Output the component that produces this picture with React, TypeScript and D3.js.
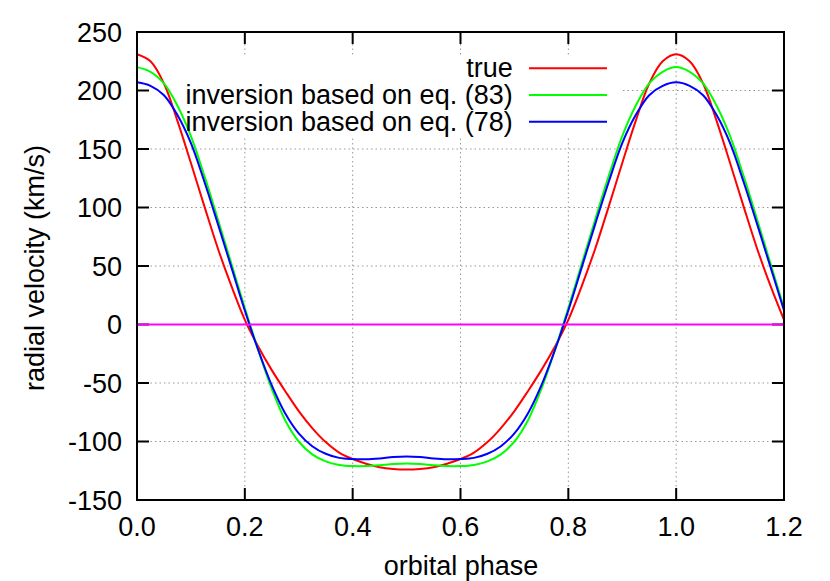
import React from "react";
import * as d3 from "d3";

const phases = [
  0, 0.025, 0.05, 0.075, 0.1, 0.125, 0.15, 0.175, 0.2, 0.225, 0.25, 0.275, 0.3, 0.325, 0.35, 0.375, 0.4, 0.425, 0.45, 0.475,
  0.5, 0.525, 0.55, 0.575, 0.6, 0.625, 0.65, 0.675, 0.7, 0.725, 0.75, 0.775, 0.8, 0.825, 0.85, 0.875, 0.9, 0.925, 0.95, 0.975,
  1.0, 1.025, 1.05, 1.075, 1.1, 1.125, 1.15, 1.175, 1.2,
];

const trueRV = [
  231, 225, 206, 174, 138, 101, 65, 33, 4, -19, -39, -57, -74, -88.5, -100.5, -109.5, -115, -119, -122, -123.5,
  -124, -123.5, -122, -119, -115, -109.5, -100.5, -88.5, -74, -57, -39, -19, 4, 33, 65, 101, 138, 174, 206, 225,
  231, 225, 206, 174, 138, 101, 65, 33, 4,
];

const eq83RV = [
  220, 216, 206, 187, 161, 127, 90, 52, 14, -22, -55, -82, -100, -111, -117, -120, -121, -121, -120.3, -119.3,
  -118.8, -119.3, -120.3, -121, -121, -120, -117, -111, -100, -82, -55, -22, 14, 52, 90, 127, 161, 187, 206, 216,
  220, 216, 206, 187, 161, 127, 90, 52, 14,
];

const eq78RV = [
  207, 204, 196, 179, 155, 122, 86, 49, 12, -22, -52, -76, -93, -104, -110.5, -114, -115, -115.2, -114.5, -113.3,
  -112.8, -113.3, -114.5, -115.2, -115, -114, -110.5, -104, -93, -76, -52, -22, 12, 49, 86, 122, 155, 179, 196, 204,
  207, 204, 196, 179, 155, 122, 86, 49, 12,
];

const xTicks = [0, 0.2, 0.4, 0.6, 0.8, 1.0, 1.2];
const yTicks = [-150, -100, -50, 0, 50, 100, 150, 200, 250];

const seriesNames = ["true", "inversion based on eq. (83)", "inversion based on eq. (78)"];
const seriesColors = ["#ff0000", "#00ff00", "#0000ff"];

export default function App() {
  const W = 830;
  const H = 581;
  const left = 137, right = 784, top = 32, bottom = 500;
  const x = d3.scaleLinear().domain([0, 1.2]).range([left, right]);
  const y = d3.scaleLinear().domain([-150, 250]).range([bottom, top]);
  const font = "'Liberation Sans', Arial, Helvetica, sans-serif";
  const fs = 27;

  const seriesData = [trueRV, eq83RV, eq78RV];
  const line = d3
    .line<number>()
    .x((_, i) => x(phases[i]))
    .y((d) => y(d))
    .curve(d3.curveCatmullRom.alpha(0.5));

  const tickLen = 12;
  const legendRows = [68.3, 95, 121.7];

  return (
    <svg
      width={W}
      height={H}
      style={{ position: "absolute", left: 0, top: 0, display: "block", background: "#fff" }}
      fontFamily={font}
    >
      <rect x={0} y={0} width={W} height={H} fill="#fff" />
      {/* grid */}
      <g stroke="#999" strokeWidth={1} strokeDasharray="1.5,3">
        {xTicks.slice(1, -1).map((t) => (
          <line key={"gx" + t} x1={x(t)} x2={x(t)} y1={bottom} y2={top} />
        ))}
        {yTicks.slice(1, -1).map((t) => (
          <line key={"gy" + t} x1={left} x2={right} y1={y(t)} y2={y(t)} />
        ))}
      </g>
      {/* key area hides grid */}
      <rect x={left + 1} y={56} width={621 - left - 1} height={80} fill="#fff" />
      {/* ticks */}
      <g stroke="#000" strokeWidth={2}>
        {xTicks.map((t) => (
          <g key={"tx" + t}>
            <line x1={x(t)} x2={x(t)} y1={bottom} y2={bottom - tickLen} />
            <line x1={x(t)} x2={x(t)} y1={top} y2={top + tickLen} />
          </g>
        ))}
        {yTicks.map((t) => (
          <g key={"ty" + t}>
            <line x1={left} x2={left + tickLen} y1={y(t)} y2={y(t)} />
            <line x1={right} x2={right - tickLen} y1={y(t)} y2={y(t)} />
          </g>
        ))}
      </g>
      {/* tick labels */}
      <g fontSize={fs} fill="#000">
        {xTicks.map((t) => (
          <text key={"lx" + t} x={x(t)} y={536} textAnchor="middle">
            {t.toFixed(1)}
          </text>
        ))}
        {yTicks.map((t) => (
          <text key={"ly" + t} x={122} y={y(t) + 9.5} textAnchor="end">
            {t}
          </text>
        ))}
      </g>
      {/* axis titles */}
      <text x={461} y={575} fontSize={fs} textAnchor="middle" fill="#000">
        orbital phase
      </text>
      <text
        transform={`translate(44,268) rotate(-90)`}
        fontSize={fs}
        textAnchor="middle"
        fill="#000"
      >
        radial velocity (km/s)
      </text>
      {/* curves */}
      {seriesData.map((s, i) => (
        <path key={"s" + i} d={line(s) || ""} fill="none" stroke={seriesColors[i]} strokeWidth={2} />
      ))}
      {/* zero line */}
      <line x1={x(0)} x2={x(1.2)} y1={y(0)} y2={y(0)} stroke="#ff00ff" strokeWidth={2} />
      {/* legend */}
      {seriesNames.map((n, i) => (
        <g key={"lg" + i}>
          <text x={512.7} y={legendRows[i] + 9} fontSize={fs} textAnchor="end" fill="#000">
            {n}
          </text>
          <line x1={529} x2={607} y1={legendRows[i]} y2={legendRows[i]} stroke={seriesColors[i]} strokeWidth={2} />
        </g>
      ))}
      {/* frame */}
      <rect x={left} y={top} width={right - left} height={bottom - top} fill="none" stroke="#000" strokeWidth={2} />
    </svg>
  );
}
